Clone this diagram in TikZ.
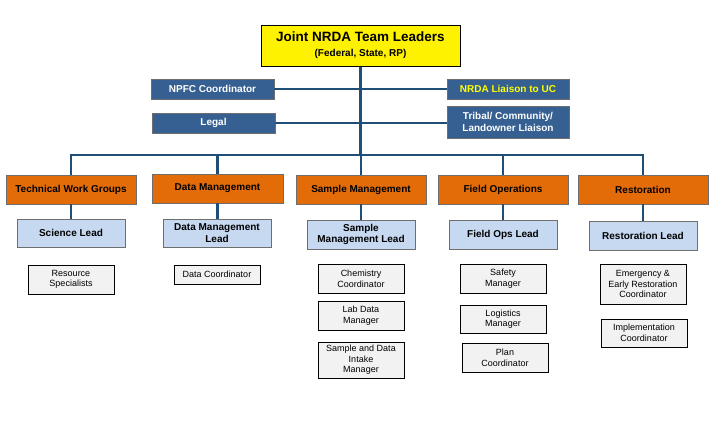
\documentclass[tikz,border=0pt]{standalone}
\usepackage{fontspec}
\setmainfont{Liberation Sans}
\definecolor{lineblue}{RGB}{31,78,121}
\definecolor{boxblue}{RGB}{55,96,146}
\definecolor{orangebox}{RGB}{227,108,9}
\definecolor{lightbluebox}{RGB}{198,217,241}
\definecolor{graybox}{RGB}{242,242,242}
\definecolor{bordergray}{RGB}{110,110,110}
\definecolor{liaisonyellow}{RGB}{255,255,0}
\tikzset{
  base/.style={draw, inner sep=1pt, align=center, line width=0.9pt},
  topbox/.style={base, fill=yellow, draw=black, line width=1pt},
  bluebox/.style={base, fill=boxblue, draw=bordergray, text=white, font=\fontsize{10}{11.7}\selectfont\bfseries},
  orangestyle/.style={base, fill=orangebox, draw=bordergray, font=\fontsize{10}{11.7}\selectfont\bfseries},
  leadbox/.style={base, fill=lightbluebox, draw=bordergray, font=\fontsize{10}{11.7}\selectfont\bfseries},
  staffbox/.style={base, fill=graybox, draw=black, line width=0.7pt, font=\fontsize{9}{10.6}\selectfont},
  conn/.style={draw=lineblue, line width=2.2pt}
}
\begin{document}
\begin{tikzpicture}[x=1pt,y=-1pt]
\useasboundingbox (0,0) rectangle (713,439);
\fill[white] (0,0) rectangle (713,439);

\coordinate (bus) at (360.5,155);
\node[topbox, minimum width=199pt, minimum height=41pt] (top) at (360.5,45.5)
  {{\fontsize{13.5}{15}\selectfont\bfseries Joint NRDA Team Leaders}\\[3pt]{\fontsize{10}{11}\selectfont\bfseries (Federal, State, RP)}};
\node[bluebox, minimum width=123pt, minimum height=20pt] (npfc) at (212.5,89) {NPFC Coordinator};
\node[bluebox, minimum width=122pt, minimum height=20pt, text=liaisonyellow] (nrda) at (508,89) {NRDA Liaison to UC};
\node[bluebox, minimum width=123pt, minimum height=20pt] (legal) at (213.5,123) {Legal};
\node[bluebox, minimum width=122pt, minimum height=32pt] (tribal) at (508,122) {Tribal/ Community/\\Landowner Liaison};

\node[orangestyle, minimum width=130pt, minimum height=29pt] (twg) at (71,189.5) {Technical Work Groups};
\node[orangestyle, minimum width=131pt, minimum height=29pt] (dm) at (217.5,188.5) {Data Management};
\node[orangestyle, minimum width=130pt, minimum height=29pt] (sm) at (361,189.5) {Sample Management};
\node[orangestyle, minimum width=130pt, minimum height=29pt] (fo) at (503,189.5) {Field Operations};
\node[orangestyle, minimum width=130pt, minimum height=29pt] (rest) at (643,189.5) {Restoration};

\node[leadbox, minimum width=108pt, minimum height=28pt] (sci) at (71,233) {Science Lead};
\node[leadbox, minimum width=108pt, minimum height=28pt] (dml) at (217,233) {Data Management\\Lead};
\node[leadbox, minimum width=108pt, minimum height=29pt] (sml) at (361,234.5) {Sample\\Management Lead};
\node[leadbox, minimum width=108pt, minimum height=29pt] (fol) at (503,234.5) {Field Ops Lead};
\node[leadbox, minimum width=108pt, minimum height=29pt] (rl) at (643,235.5) {Restoration Lead};

\node[staffbox, minimum width=86pt, minimum height=29pt] (rs) at (71,279.5) {Resource\\Specialists};
\node[staffbox, minimum width=86pt, minimum height=19pt] (dc) at (217,274.5) {Data Coordinator};
\node[staffbox, minimum width=86pt, minimum height=29pt] (chem) at (361,278.5) {Chemistry\\Coordinator};
\node[staffbox, minimum width=86pt, minimum height=29pt] (lab) at (361,315.5) {Lab Data\\Manager};
\node[staffbox, minimum width=86pt, minimum height=36pt] (sdi) at (361,360) {Sample and Data\\Intake\\Manager};
\node[staffbox, minimum width=86pt, minimum height=29pt] (safety) at (503,278.5) {Safety\\Manager};
\node[staffbox, minimum width=86pt, minimum height=28pt] (logi) at (503,319) {Logistics\\Manager};
\node[staffbox, minimum width=86pt, minimum height=29pt] (plan) at (505,357.5) {Plan\\Coordinator};
\node[staffbox, minimum width=86pt, minimum height=40pt] (emer) at (643,284) {Emergency \&\\Early Restoration\\Coordinator};
\node[staffbox, minimum width=86pt, minimum height=28pt] (impl) at (644,333) {Implementation\\Coordinator};

\draw[conn] (top.south) -- (top.south |- bus);
\draw[conn] (npfc.east) -- (nrda.west);
\draw[conn] (legal.east) -- (legal.east -| tribal.west);
\draw[conn] (twg.north) |- (rest.north |- bus) -- (rest.north);
\draw[conn] (dm.north) -- (dm.north |- bus);
\draw[conn] (sm.north) -- (sm.north |- bus);
\draw[conn] (fo.north) -- (fo.north |- bus);
\draw[conn] (twg.south) -- (twg.south |- sci.north);
\draw[conn] (dm.south) -- (dm.south |- dml.north);
\draw[conn] (sm.south) -- (sm.south |- sml.north);
\draw[conn] (fo.south) -- (fo.south |- fol.north);
\draw[conn] (rest.south) -- (rest.south |- rl.north);
\end{tikzpicture}
\end{document}
